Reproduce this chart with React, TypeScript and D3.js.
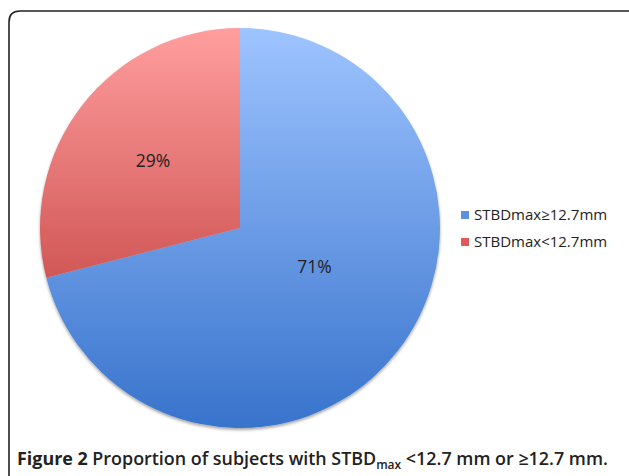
import React, { useEffect, useRef } from 'react'
import * as d3 from 'd3'

const categories = ['STBDmax≥12.7mm', 'STBDmax<12.7mm']
const values = [71, 29]
const labels = ['71%', '29%']

const W = 629
const H = 476

export default function App() {
  const ref = useRef<SVGSVGElement>(null)

  useEffect(() => {
    const svg = d3.select(ref.current)
    svg.selectAll('*').remove()

    const cx = 240
    const cy = 228
    const r = 200

    const defs = svg.append('defs')
    const grads = [
      { id: 'gBlue', top: '#9ec4ff', bottom: '#3873cc' },
      { id: 'gRed', top: '#ff9e9e', bottom: '#b52d2b' },
    ]
    // gradients live in the pie group's local coords (centre at 0,0)
    grads.forEach(g => {
      const lg = defs.append('linearGradient')
        .attr('id', g.id)
        .attr('gradientUnits', 'userSpaceOnUse')
        .attr('x1', 0).attr('x2', 0)
        .attr('y1', -r).attr('y2', r)
      lg.append('stop').attr('offset', '0%').attr('stop-color', g.top)
      lg.append('stop').attr('offset', '100%').attr('stop-color', g.bottom)
    })
    const shadow = defs.append('filter').attr('id', 'shd')
      .attr('x', '-10%').attr('y', '-10%').attr('width', '120%').attr('height', '120%')
    shadow.append('feDropShadow')
      .attr('dx', 0).attr('dy', 2).attr('stdDeviation', 1.5)
      .attr('flood-color', '#000').attr('flood-opacity', 0.35)

    // frame
    svg.append('path')
      .attr('d', `M9,${H + 5} L9,22 Q9,11 20,11 L${W + 5},11`)
      .style('fill', 'none')
      .style('stroke', '#222')
      .style('stroke-width', 1.6)

    const pie = d3.pie<number>().sort(null).value(d => d)
    const arcs = pie(values)
    const arc = d3.arc<d3.PieArcDatum<number>>().innerRadius(0).outerRadius(r)

    const g = svg.append('g').attr('transform', `translate(${cx},${cy})`)
    g.append('g').attr('filter', 'url(#shd)')
      .selectAll('path')
      .data(arcs)
      .enter()
      .append('path')
      .attr('d', arc)
      .style('fill', (d, i) => `url(#${grads[i].id})`)

    // label placement: radius fraction and angle nudge (like the excel layout)
    const lblR = [0.42, 0.55]
    const lblShift = [-0.18, 0]
    g.selectAll('text.lbl')
      .data(arcs)
      .enter()
      .append('text')
      .classed('lbl', true)
      .attr('transform', (d, i) => {
        const a = (d.startAngle + d.endAngle) / 2 + lblShift[i]
        const rr = r * lblR[i]
        return `translate(${Math.sin(a) * rr},${-Math.cos(a) * rr})`
      })
      .attr('text-anchor', 'middle')
      .attr('dy', '0.35em')
      .style('font-family', 'Open Sans, sans-serif')
      .style('font-size', '17.5px')
      .style('fill', '#222')
      .text((d, i) => labels[i])

    // legend
    const legendColors = ['#5b8fe0', '#e05a5a']
    const lg = svg.append('g').attr('transform', 'translate(461,215)')
    categories.forEach((c, i) => {
      const row = lg.append('g').attr('transform', `translate(0,${i * 27})`)
      row.append('rect')
        .attr('x', 0).attr('y', -4).attr('width', 8).attr('height', 8)
        .style('fill', legendColors[i])
      row.append('text')
        .attr('x', 13).attr('dy', '0.35em')
        .style('font-family', 'Open Sans, sans-serif')
        .style('font-size', '15px')
        .style('fill', '#222')
        .text(c)
    })

    // caption
    const cap = svg.append('text')
      .attr('x', 17).attr('y', 465)
      .style('font-family', 'Open Sans, sans-serif')
      .style('font-size', '17.9px')
      .style('font-weight', 600)
      .style('fill', '#222')
    cap.append('tspan').style('font-weight', 'bold').text('Figure 2')
    cap.append('tspan').text(' Proportion of subjects with STBD')
    cap.append('tspan').attr('dy', 4).style('font-size', '12px').text('max')
    cap.append('tspan').attr('dy', -4).text(' <12.7 mm or ≥12.7 mm.')
  }, [])

  return (
    <div style={{ position: 'absolute', left: 0, top: 0 }}>
      <svg ref={ref} width={W} height={H} style={{ display: 'block', background: '#fff' }} />
    </div>
  )
}
